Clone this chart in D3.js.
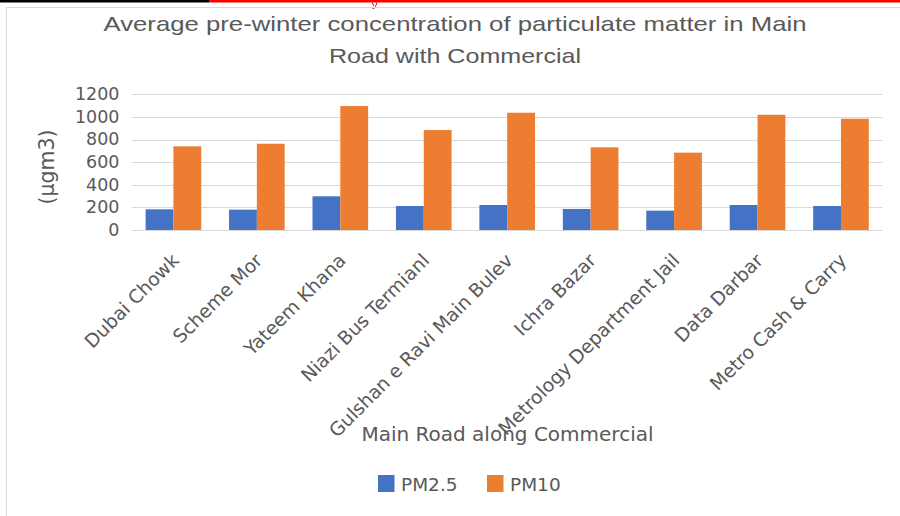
<!DOCTYPE html>
<html>
<head>
<meta charset="utf-8">
<script src="https://cdn.jsdelivr.net/npm/d3@7/dist/d3.min.js"></script>
<style>
  html, body { margin: 0; padding: 0; background: #fff; }
  svg { display: block; }
  text { font-family: "DejaVu Sans", sans-serif; fill: #595959; }
</style>
</head>
<body>
<svg id="chart" width="900" height="516"></svg>
<script>
// ---- data ----
const categories = ["Dubai Chowk", "Scheme Mor", "Yateem Khana", "Niazi Bus Termianl",
  "Gulshan e Ravi Main Bulev", "Ichra Bazar", "Metrology Department Jail", "Data Darbar",
  "Metro Cash & Carry"];
const seriesNames = ["PM2.5", "PM10"];
const pm25 = [183, 180, 298, 212, 221, 186, 171, 221, 212];
const pm10 = [740, 763, 1096, 884, 1037, 731, 684, 1019, 984];
const yTicks = [0, 200, 400, 600, 800, 1000, 1200];
const titleLines = ["Average pre-winter concentration of particulate matter in Main", "Road with Commercial"];
const xTitle = "Main Road along Commercial";
const yTitle = "(µgm3)";
const colors = ["#4472C4", "#ED7D31"];

const svg = d3.select("#chart");

// decorative page edges
svg.append("rect").attr("x", 0).attr("y", 0).attr("width", 209).attr("height", 2.5).attr("fill", "#000");
svg.append("rect").attr("x", 209).attr("y", 0).attr("width", 691).attr("height", 2.5).attr("fill", "#ff0000");
svg.append("path").attr("d", "M372,2.5 L374,6 M377,2.5 L375.5,6.5 Q374.5,9 372.5,8.5")
  .attr("fill", "none").attr("stroke", "#e00").attr("stroke-width", 1);
svg.append("rect").attr("x", 6.5).attr("y", 7.5).attr("width", 900).attr("height", 520)
  .attr("fill", "none").attr("stroke", "#d9d9d9").attr("stroke-width", 1);

// title
const titleY = [31, 63], titleW = [703, 252];
titleLines.forEach((t, i) => {
  svg.append("text").attr("x", 455).attr("y", titleY[i]).attr("text-anchor", "middle")
    .style("font-family", "'Liberation Sans', Arial, sans-serif")
    .attr("font-size", 21).attr("textLength", titleW[i]).attr("lengthAdjust", "spacingAndGlyphs")
    .text(t);
});

// scales
const plotLeft = 131.7, plotRight = 882.7, plotTop = 94.3, plotBottom = 230;
const x0 = d3.scaleBand().domain(categories).range([plotLeft, plotRight]).padding(0);
const x1 = d3.scaleBand().domain(seriesNames).range([0, x0.bandwidth()]).paddingInner(0).paddingOuter(0.5);
const y = d3.scaleLinear().domain([0, 1200]).range([plotBottom, plotTop]);

// gridlines
svg.append("g").selectAll("line").data(yTicks).join("line")
  .attr("x1", plotLeft).attr("x2", plotRight)
  .attr("y1", d => Math.round(y(d)) + 0.5).attr("y2", d => Math.round(y(d)) + 0.5)
  .attr("stroke", "#d9d9d9").attr("stroke-width", 1.2);

// y tick labels
const yAxis = d3.axisLeft(y).tickValues(yTicks).tickSize(0).tickPadding(0).tickFormat(d3.format("d"));
const ya = svg.append("g").attr("transform", `translate(119.5,0)`).call(yAxis);
ya.select(".domain").remove();
ya.selectAll("text").attr("font-size", 17.5).attr("font-family", "DejaVu Sans").style("fill", "#595959").attr("dy", "0.3em");

// bars
const rows = categories.map((c, i) => ({ c, vals: [pm25[i], pm10[i]] }));
const groups = svg.append("g").selectAll("g").data(rows).join("g")
  .attr("transform", d => `translate(${x0(d.c)},0)`);
groups.selectAll("rect").data(d => d.vals.map((v, j) => ({ s: seriesNames[j], v, j })))
  .join("rect")
  .attr("x", d => x1(d.s)).attr("width", x1.bandwidth())
  .attr("y", d => y(d.v)).attr("height", d => y(0) - y(d.v))
  .attr("fill", d => colors[d.j]);

// x labels
const xa = svg.append("g");
xa.selectAll("text").data(categories).join("text")
  .attr("transform", d => `translate(${x0(d) + x0.bandwidth() / 2 + 2},257) rotate(-45)`)
  .attr("text-anchor", "end").attr("dy", "0.35em").attr("font-size", 18.8)
  .text(d => d);

// axis titles
svg.append("text").attr("x", 507.5).attr("y", 441).attr("text-anchor", "middle")
  .attr("font-size", 20).text(xTitle);
svg.append("text").attr("transform", "translate(47,167) rotate(-90)").attr("text-anchor", "middle")
  .attr("dy", "0.35em").attr("font-size", 20.5).text(yTitle);

// legend
const legX = [378, 487];
const leg = svg.append("g").selectAll("g").data(seriesNames).join("g")
  .attr("transform", (d, i) => `translate(${legX[i]},475)`);
leg.append("rect").attr("width", 16.5).attr("height", 17).attr("fill", (d, i) => colors[i]);
leg.append("text").attr("x", 23).attr("y", 16).attr("font-size", 18.5).text(d => d);
</script>
</body>
</html>
